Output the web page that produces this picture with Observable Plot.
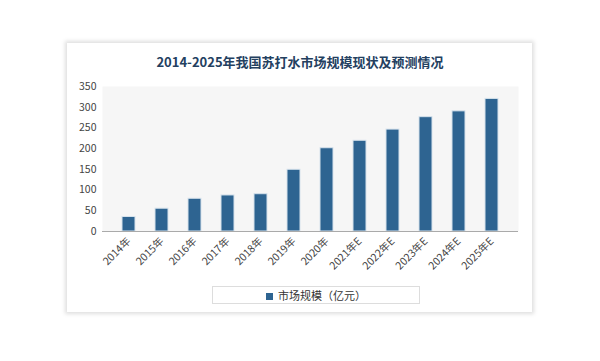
<!DOCTYPE html>
<html><head><meta charset="utf-8">
<script src="https://cdn.jsdelivr.net/npm/d3@7"></script>
<script src="https://cdn.jsdelivr.net/npm/@observablehq/plot@0.6"></script>
<style>
html,body{margin:0;padding:0;background:#fff;width:600px;height:361px;overflow:hidden;font-family:"Noto Sans CJK SC","Noto Sans",sans-serif;}
#card{position:absolute;left:67px;top:43px;width:465px;height:269px;background:#fff;box-shadow:0 0 4px 2px rgba(0,0,0,0.13);}
#title{position:absolute;left:0;top:52px;width:600px;text-align:center;font-size:13px;font-weight:bold;color:#23405f;}
#chart{position:absolute;left:0;top:0;}
#legend{position:absolute;left:212px;top:286px;width:208px;height:18px;border:1px solid #ddd;box-sizing:border-box;text-align:center;font-size:11px;line-height:17px;color:#333;}
#legend span.sw{display:inline-block;width:7px;height:7px;background:#2e6491;margin-right:5px;vertical-align:0px;}
</style></head>
<body>
<div id="card"></div>
<div id="title">2014-2025年我国苏打水市场规模现状及预测情况</div>
<div id="chart"></div>
<div id="legend"><span class="sw"></span>市场规模（亿元）</div>
<script>
const years = ["2014年","2015年","2016年","2017年","2018年","2019年","2020年","2021年E","2022年E","2023年E","2024年E","2025年E"];
const values = [35,55,79,87,90,149,201,219,246,276,290,320];
const yTicks = [0,50,100,150,200,250,300,350];
const data = years.map((y,i)=>({year:y,value:values[i]}));
const chart = Plot.plot({
  width:600, height:361,
  marginLeft:102, marginRight:82, marginTop:86, marginBottom:130,
  style:{background:"transparent", fontFamily:"'Noto Sans CJK SC','Noto Sans',sans-serif", fontSize:"10.5px", color:"#444"},
  x:{domain:years, padding:0.6, label:null, tickSize:0, tickRotate:-45, tickPadding:8},
  y:{domain:[0,350], ticks:yTicks, label:null, tickSize:0, tickPadding:6},
  marks:[
    Plot.frame({fill:"#f6f6f6", stroke:null}),
    Plot.barY(data,{x:"year", y:"value", fill:"#2e6491", stroke:"#d6e2ec", strokeWidth:1}),
    Plot.ruleY([0],{stroke:"#aaa"})
  ]
});
document.getElementById("chart").appendChild(chart);
</script>
</body></html>
